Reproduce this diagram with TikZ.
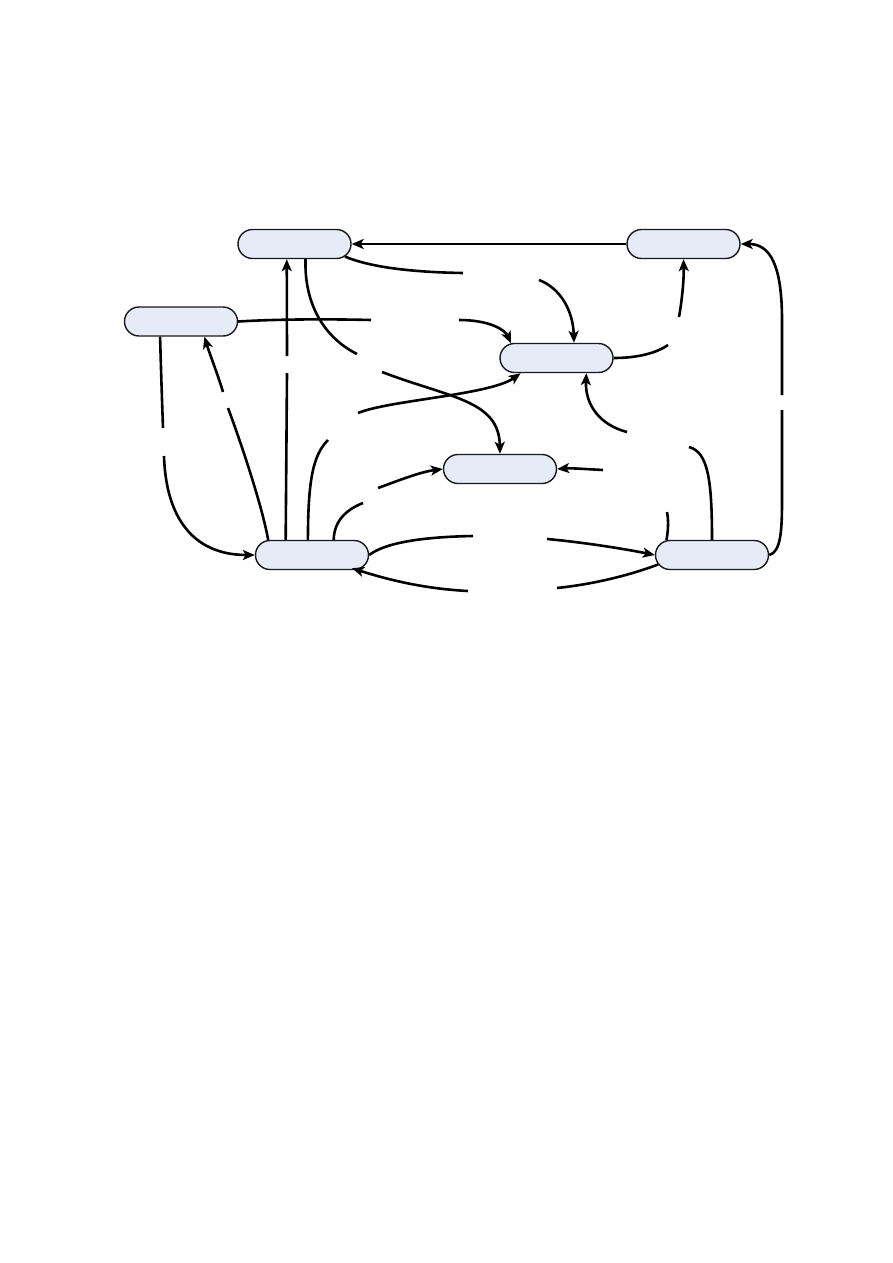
\documentclass[tikz,border=0pt]{standalone}
\usetikzlibrary{arrows.meta,shapes.misc,calc}
\definecolor{nodefill}{RGB}{229,236,247}
\definecolor{nodeline}{RGB}{25,25,25}
\begin{document}
\begin{tikzpicture}[x=1pt,y=-1pt,
  box/.style={rounded rectangle, draw=nodeline, fill=nodefill, line width=1.4pt,
              minimum width=113pt, minimum height=29pt, inner sep=0pt},
  edge/.style={line width=2.6pt, black, -{Stealth[length=12pt,width=10pt,inset=3pt]}}]
\path[use as bounding box] (0,0) rectangle (893,1263);
% nodes
\node[box] (A) at (294.5,244) {};
\node[box] (B) at (683.5,244) {};
\node[box] (C) at (181,321.5) {};
\node[box] (D) at (556.5,358) {};
\node[box] (E) at (500,469) {};
\node[box] (F) at (312,555) {};
\node[box] (G) at (712,555) {};
% B -> A
\draw[edge] (B.west) -- (A.east);
% A -> D
\draw[edge] (A.-14) .. controls (365,265) and (400,272) .. (463,273)
            (539,280) .. controls (560,288) and (573,310) .. (D.41);
% C -> D
\draw[edge] (C.east) .. controls (280,319) and (330,319) .. (371,320)
            (459,320) .. controls (490,320) and (505,330) .. (D.162);
% A -> E
\draw[edge] (A.-54) .. controls (304,305) and (325,338) .. (357,354)
            (382,372) .. controls (450,398) and (499,400) .. (E.north);
% D -> B
\draw[edge] (D.east) .. controls (640,358) and (658,352) .. (668,345)
            (679,317) .. controls (682,300) and (684,280) .. (B.south);
% G -> B
\draw[edge] (G.east) .. controls (781,552) and (782,530) .. (782,500) -- (782,410)
            (782,395) -- (782,320) .. controls (782,265) and (770,244) .. (B.east);
% G -> D
\draw[edge] (G.north) .. controls (712,480) and (708,452) .. (689,447)
            (627,432) .. controls (600,425) and (585,405) .. (D.-27);
% G -> E
\draw[edge] (G.162) .. controls (669,525) and (668,518) .. (667,512)
            (603,470) .. controls (585,469) and (570,468) .. (E.east);
% F -> G
\draw[edge] (F.east) .. controls (385,543) and (420,537) .. (473,536)
            (547,539) .. controls (580,542) and (620,548) .. (G.west);
% G -> F
\draw[edge] (G.190) .. controls (630,575) and (595,584) .. (557,588)
            (468,591) .. controls (430,589) and (395,582) .. ($(F.south east)+(-2,-2)$);
% F -> E
\draw[edge] (F.35) .. controls (334,522) and (345,510) .. (363,503)
            (378,488) .. controls (400,480) and (420,472) .. (E.west);
% F -> D
\draw[edge] (F.105) .. controls (308,480) and (313,455) .. (328,440)
            (358,413) .. controls (390,400) and (490,395) .. (D.-157);
% F -> A
\draw[edge] (F.150) -- (287,373)
            (287,356) -- (A.-117);
% F -> C
\draw[edge] (F.161) .. controls (262,505) and (240,440) .. (228,408)
            (223,392) .. controls (218,375) and (210,355) .. (C.-33);
% C -> F
\draw[edge] (C.-144) .. controls (161,370) and (162,400) .. (163,428)
            (164,456) .. controls (166,520) and (195,555) .. (F.west);
\end{tikzpicture}
\end{document}
